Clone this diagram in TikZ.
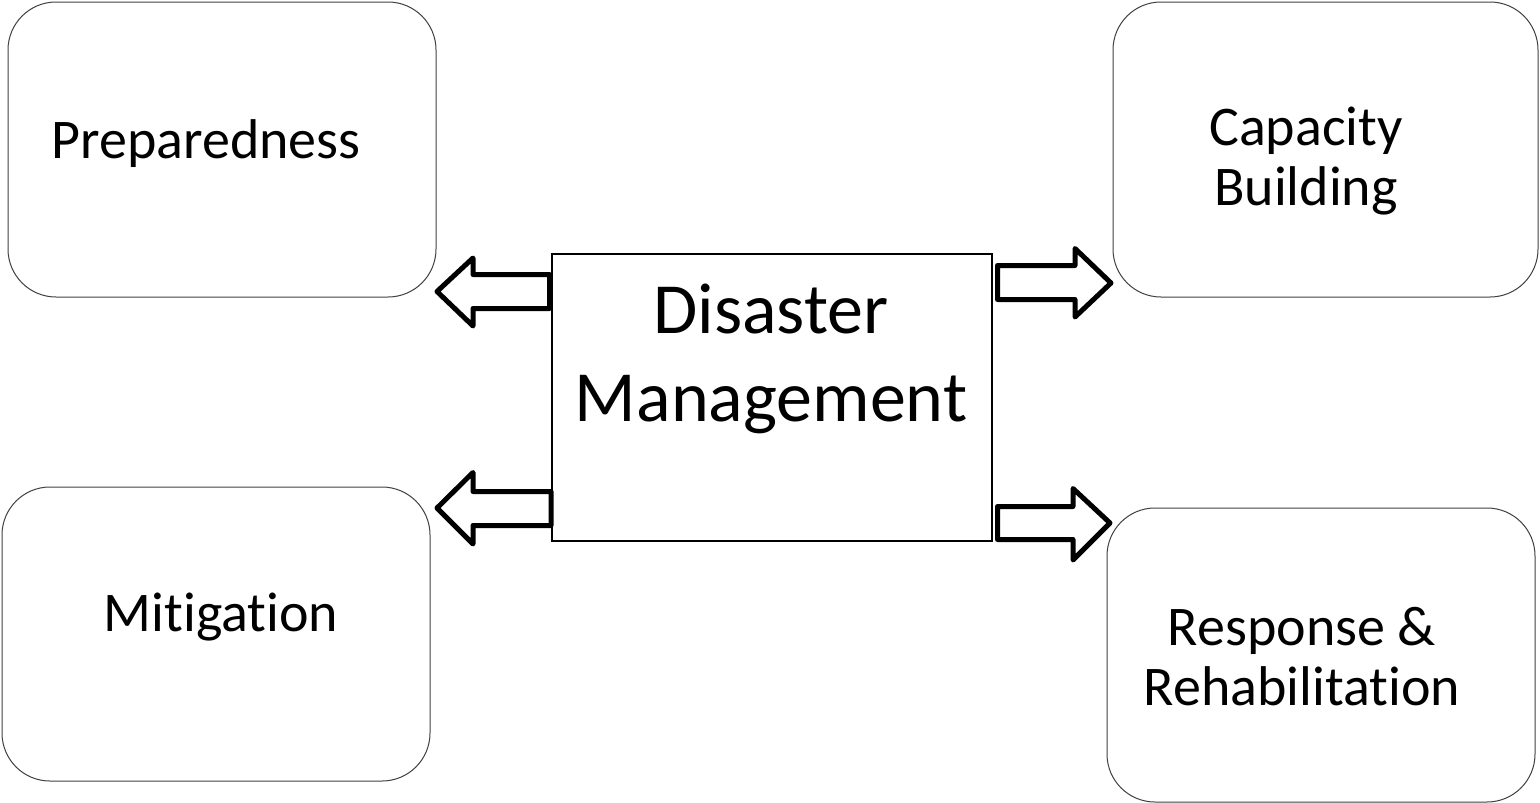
\documentclass[tikz,border=0pt]{standalone}
\usepackage{fontspec}
\setmainfont{Carlito}[Ligatures=NoCommon]
\begin{document}
\begin{tikzpicture}[x=1pt,y=-1pt,
  roundbox/.style={draw=black!75, line width=1pt, rounded corners=48pt, minimum width=#1, inner sep=0pt},
  centerbox/.style={draw=black, line width=1.4pt, minimum width=440pt, minimum height=287pt, inner sep=0pt},
  lbl/.style={anchor=base, inner sep=0pt, font=\fontsize{56}{60}\selectfont},
  biglbl/.style={anchor=base, inner sep=0pt, font=\fontsize{72}{88}\selectfont},
  blockarrow/.style={draw=black, line width=5pt, line join=round, fill=white}]
\useasboundingbox (0,0) rectangle (1540,803);
% boxes
\node[roundbox=428pt, minimum height=295pt] (prep) at (222,149.5) {};
\node[roundbox=425pt, minimum height=295pt] (cap) at (1325.5,149.5) {};
\node[roundbox=428pt, minimum height=294pt] (mit) at (216,634) {};
\node[roundbox=428pt, minimum height=294pt] (resp) at (1321,655) {};
\node[centerbox] (dm) at (772,397.5) {};
% block arrows
\draw[blockarrow] (549.5,274.5) -- (473,274.5) -- (473,258) -- (437,291.5) -- (473,326) -- (473,308.5) -- (549.5,308.5) -- cycle;
\draw[blockarrow] (551,491.5) -- (473,491.5) -- (473,472.5) -- (437,508) -- (473,544) -- (473,525.5) -- (551,525.5) -- cycle;
\draw[blockarrow] (997.5,265.5) -- (1075,265.5) -- (1075,248.5) -- (1111,283) -- (1075,317) -- (1075,299.5) -- (997.5,299.5) -- cycle;
\draw[blockarrow] (997.5,506.5) -- (1073,506.5) -- (1073,488.5) -- (1110,523) -- (1073,560) -- (1073,539.5) -- (997.5,539.5) -- cycle;
% labels
\node[lbl] (prepT) at (206,158) {Preparedness};
\node[lbl] (capT1) at (1306,145) {Capacity};
\node[lbl] (capT2) at (1306,205) {Building};
\node[lbl] (mitT) at (221,631) {Mitigation};
\node[lbl] (respT1) at (1302,645) {Response \&};
\node[lbl] (respT2) at (1302,705) {Rehabilitation};
\node[biglbl] (dmT1) at (771,333) {Disaster};
\node[biglbl] (dmT2) at (771,421) {Management};
\end{tikzpicture}
\end{document}
